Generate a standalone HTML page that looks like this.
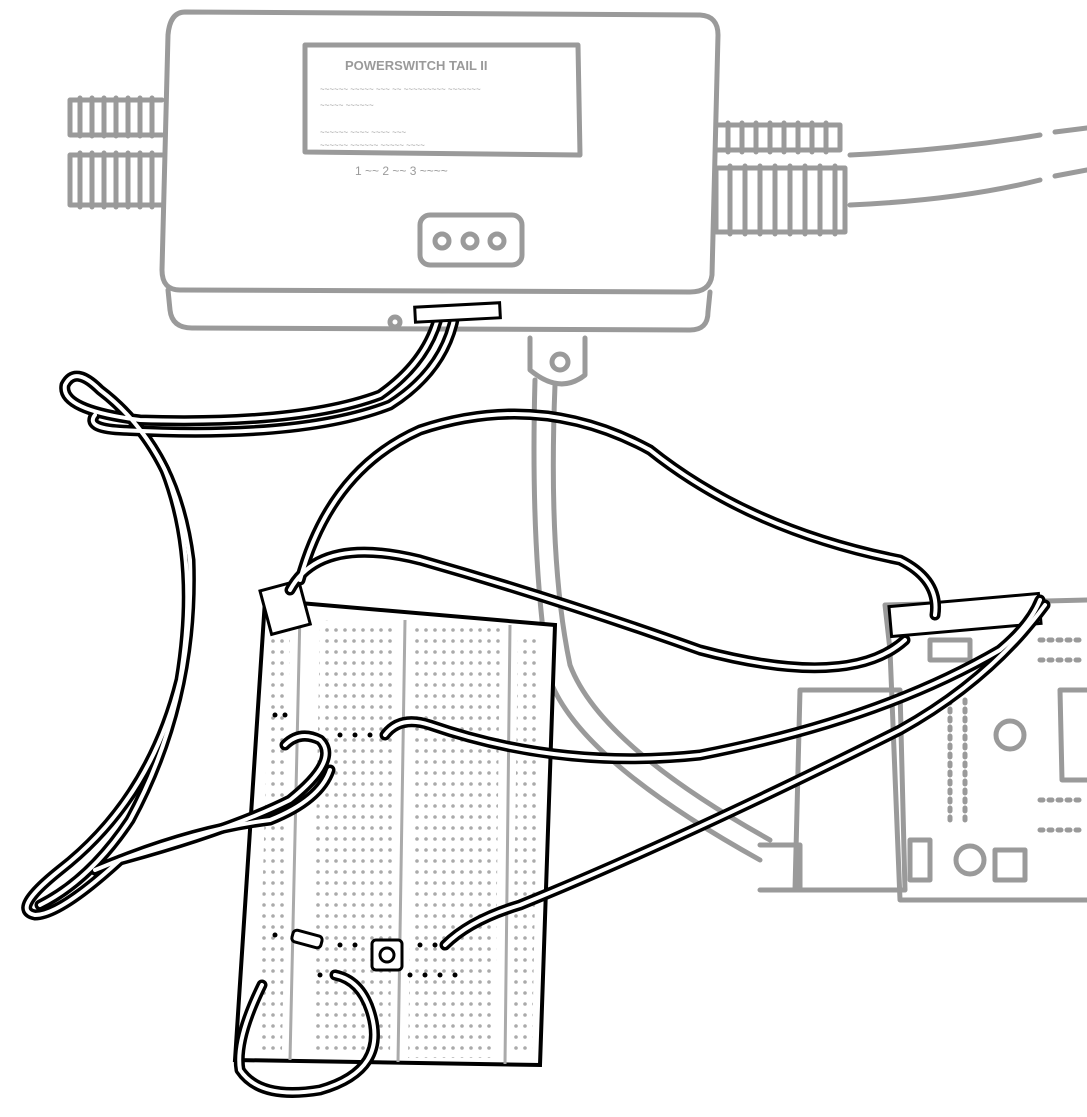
<!DOCTYPE html>
<html><head><meta charset="utf-8"><style>
html,body{margin:0;padding:0;background:#fff;}
svg{display:block;}
</style></head><body>
<svg width="1087" height="1117" viewBox="0 0 1087 1117" xmlns="http://www.w3.org/2000/svg">
<g fill="none" stroke="#9a9a9a" stroke-width="5" stroke-linecap="round" stroke-linejoin="round">
  <path d="M185,12 L700,15 Q718,16 718,35 L712,275 Q710,292 690,292 L180,290 Q162,290 162,270 L168,35 Q170,12 185,12 Z"/>
  <path d="M168,290 L170,310 Q172,328 192,328 L690,330 Q708,330 708,312 L710,292"/>
  <path d="M305,45 L578,45 L580,155 L305,152 Z"/>
  <rect x="420" y="215" width="102" height="50" rx="10"/>
  <circle cx="442" cy="241" r="7"/><circle cx="470" cy="241" r="7"/><circle cx="497" cy="241" r="7"/>
  <circle cx="395" cy="322" r="5"/>
  <path d="M530,338 L530,370 Q560,395 585,375 L585,338"/>
  <circle cx="560" cy="362" r="8"/>
  <path d="M162,100 L70,100 M70,100 L70,135 M162,135 L70,135"/>
  <path d="M80,98 v38 M92,98 v38 M104,98 v38 M116,98 v38 M128,98 v38 M140,98 v38 M152,98 v38"/>
  <path d="M162,155 L70,155 L70,205 L162,205"/>
  <path d="M80,153 v54 M92,153 v54 M104,153 v54 M116,153 v54 M128,153 v54 M140,153 v54 M152,153 v54"/>
  <path d="M716,125 L840,125 L840,150 M716,150 L840,150"/>
  <path d="M728,123 v29 M742,123 v29 M756,123 v29 M770,123 v29 M784,123 v29 M798,123 v29 M812,123 v29 M826,123 v29"/>
  <path d="M716,168 L845,168 L845,232 L716,232 Z"/>
  <path d="M730,166 v68 M745,166 v68 M760,166 v68 M775,166 v68 M790,166 v68 M805,166 v68 M820,166 v68 M835,166 v68"/>
  <path d="M850,155 Q950,150 1040,135"/><path d="M1055,132 L1087,128" />
  <path d="M850,205 Q960,200 1040,180"/><path d="M1055,176 L1087,170"/>
  <path d="M535,380 Q530,560 550,680 Q580,760 760,860"/>
  <path d="M555,385 Q548,560 570,665 Q600,745 770,840"/>
  <path d="M800,690 L900,690 L905,890 L795,890 Z"/>
  <path d="M760,845 L800,845 L800,890 L760,890"/>
  <path d="M885,605 L1087,600 M885,605 L890,650 L900,900 L1087,900"/>
  <rect x="930" y="640" width="40" height="20"/>
  <path d="M1060,690 L1087,690 M1060,690 L1062,780 L1087,780"/>
  <circle cx="1010" cy="735" r="14"/>
  <circle cx="970" cy="860" r="14"/>
  <rect x="995" y="850" width="30" height="30"/>
  <rect x="910" y="840" width="20" height="40"/>
  <path d="M950,700 v120 M965,700 v120" stroke-dasharray="3 6"/>
  <path d="M1040,640 h40 M1040,660 h40 M1040,800 h40 M1040,830 h40" stroke-dasharray="3 6"/>
</g>
<g font-family="Liberation Sans, sans-serif" fill="#9a9a9a">
  <text x="345" y="70" font-size="13" font-weight="bold">POWERSWITCH TAIL II</text>
  <text x="320" y="92" font-size="8">~~~~~~ ~~~~~ ~~~ ~~ ~~~~~~~~~ ~~~~~~~</text>
  <text x="320" y="108" font-size="8">~~~~~ ~~~~~~</text>
  <text x="320" y="135" font-size="8">~~~~~~ ~~~~           ~~~~ ~~~</text>
  <text x="320" y="148" font-size="8">~~~~~~ ~~~~~~ ~~~~~ ~~~~</text>
  <text x="355" y="175" font-size="12">1 ~~  2 ~~  3 ~~~~</text>
</g>
<path d="M265,600 L555,625 L540,1065 L235,1060 Z" fill="#fff" stroke="#000" stroke-width="4"/>
<g stroke="#aaa" stroke-width="3" fill="none">
  <path d="M300,612 L290,1060 M405,620 L398,1062 M510,625 L505,1064"/>
</g>
<g fill="#aaa">
  <pattern id="dots" width="9" height="11" patternUnits="userSpaceOnUse"><circle cx="3" cy="3" r="1.8"/></pattern>
  <path d="M320,620 L395,625 L390,1055 L312,1055 Z" fill="url(#dots)"/>
  <path d="M415,625 L500,628 L495,1058 L408,1058 Z" fill="url(#dots)"/>
  <path d="M270,630 L290,630 L282,1050 L258,1050 Z" fill="url(#dots)"/>
  <path d="M518,632 L540,632 L532,1055 L512,1055 Z" fill="url(#dots)"/>
</g>
<g fill="#000">
  <circle cx="275" cy="715" r="2.5"/><circle cx="285" cy="715" r="2.5"/><circle cx="340" cy="735" r="2.5"/><circle cx="355" cy="735" r="2.5"/><circle cx="370" cy="735" r="2.5"/>
  <circle cx="275" cy="935" r="2.5"/><circle cx="340" cy="945" r="2.5"/><circle cx="355" cy="945" r="2.5"/><circle cx="420" cy="945" r="2.5"/><circle cx="435" cy="945" r="2.5"/>
  <circle cx="320" cy="975" r="2.5"/><circle cx="410" cy="975" r="2.5"/><circle cx="425" cy="975" r="2.5"/><circle cx="440" cy="975" r="2.5"/><circle cx="455" cy="975" r="2.5"/>
</g>
<g stroke="#000" stroke-width="3" fill="#fff">
  <rect x="292" y="933" width="30" height="12" rx="4" transform="rotate(15 307 939)"/>
  <rect x="372" y="940" width="30" height="30" rx="4"/>
  <circle cx="387" cy="955" r="7"/>
  <rect x="265" y="585" width="40" height="45" transform="rotate(-15 285 607)"/>
  <rect x="890" y="600" width="150" height="30" transform="rotate(-5 965 615)"/>
</g>
<g fill="none" stroke-linecap="round" stroke-linejoin="round">
  <g stroke="#000" stroke-width="11">
    <path id="w1" d="M440,310 Q430,360 380,395 Q300,425 140,420 Q60,410 65,385 Q75,365 100,390 Q140,420 165,470 Q200,560 180,680 Q150,800 60,870 Q10,910 35,915 Q60,915 120,860 Q230,830 290,800 Q340,760 320,740 Q300,730 285,745"/>
    <path id="w1b" d="M455,315 Q445,370 390,405 Q300,440 120,430 Q85,428 95,415 M140,430 Q180,480 190,560 Q195,700 130,820 Q90,880 40,905 M95,870 Q190,830 270,820 Q320,800 330,770"/>
    <path id="w2" d="M300,580 Q330,470 420,430 Q540,390 650,450 Q750,530 900,560 Q940,580 935,615"/>
    <path id="w3" d="M290,590 Q320,535 420,560 Q560,600 700,650 Q850,690 905,640"/>
    <path id="w4" d="M385,735 Q400,715 430,725 Q560,770 700,755 Q880,720 1000,650 Q1030,625 1040,600"/>
    <path id="w5" d="M445,945 Q470,920 520,905 Q680,840 900,730 Q990,680 1045,605"/>
    <path id="w6" d="M262,985 Q235,1040 240,1070 Q260,1100 320,1090 Q390,1070 370,1010 Q360,980 335,975"/>
  </g>
  <g stroke="#fff" stroke-width="4">
    <use href="#w1"/><use href="#w1b"/><use href="#w2"/><use href="#w3"/><use href="#w4"/><use href="#w5"/><use href="#w6"/>
  </g>
</g>
<g stroke="#000" stroke-width="3" fill="#fff">
  <rect x="415" y="305" width="85" height="15" transform="rotate(-3 457 312)"/>
</g>
</svg>
</body></html>
